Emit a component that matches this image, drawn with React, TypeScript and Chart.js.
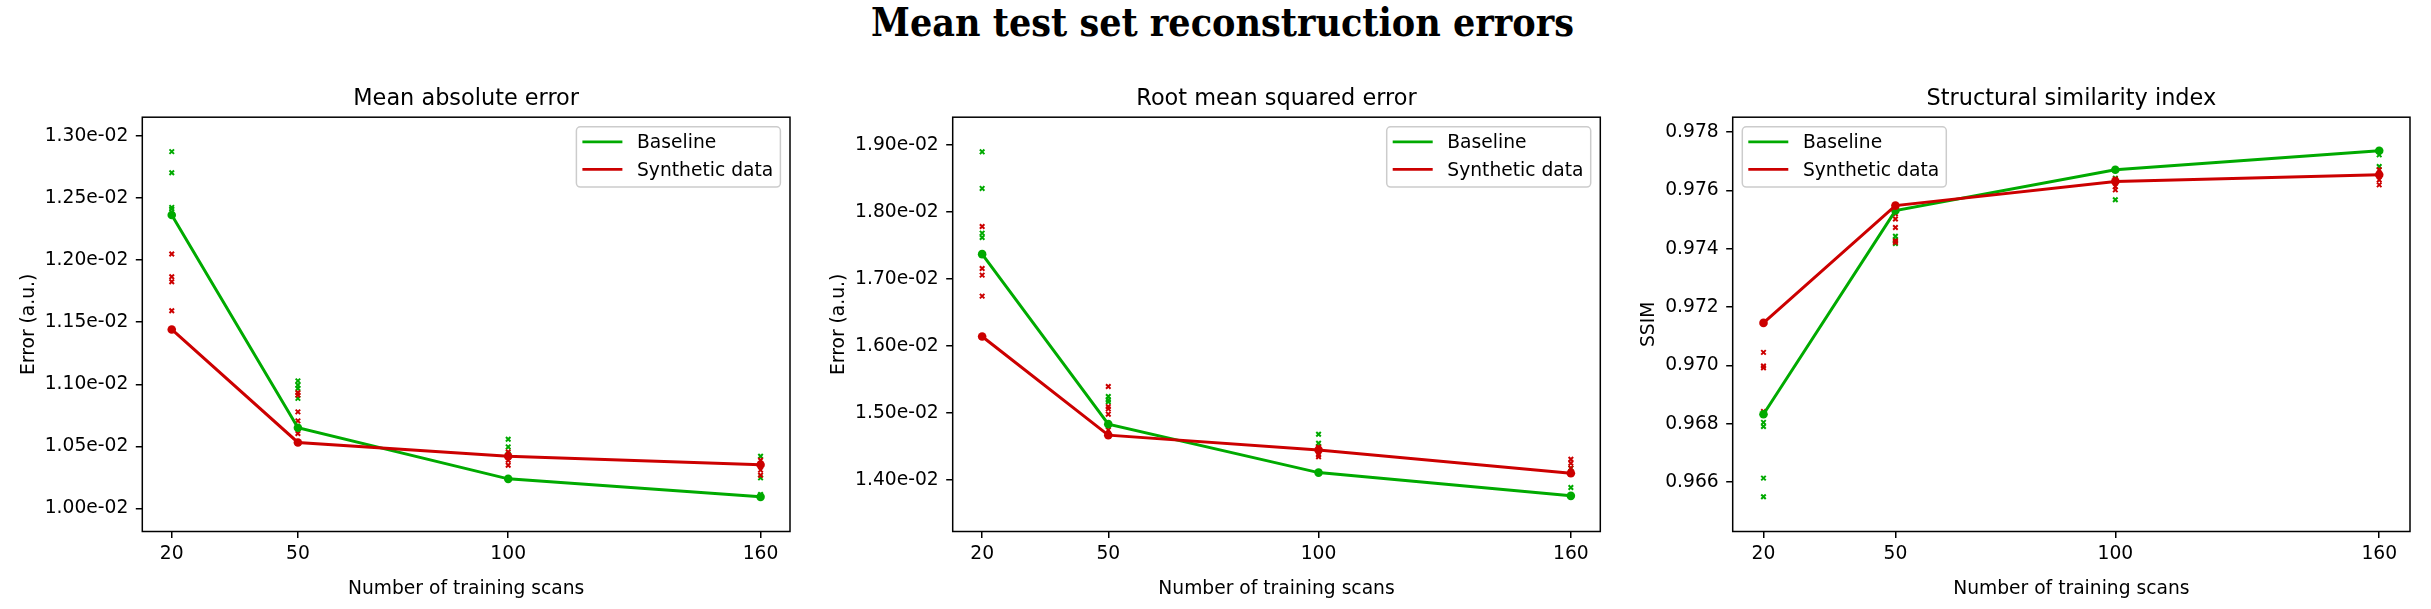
import React, { useEffect, useRef } from 'react';
import { Chart, registerables } from 'chart.js';

Chart.register(...registerables);
Chart.defaults.font.family = '"DejaVu Sans"';

// ---------- data ----------
const xValues = [20, 50, 100, 160];
const xTicks = [20, 50, 100, 160];
const seriesLabels = ['Baseline', 'Synthetic data'];

// Mean absolute error
const maeBaselineMean = [0.012363, 0.01065, 0.010239, 0.010094];
const maeSyntheticMean = [0.011442, 0.010532, 0.010421, 0.010352];
const maeBaselineRuns = [
  [0.012874, 0.012704, 0.012425, 0.012412],
  [0.011028, 0.010994, 0.010967, 0.010887],
  [0.010558, 0.010496, 0.01044],
  [0.010421, 0.010247, 0.010113],
];
const maeSyntheticRuns = [
  [0.012049, 0.011866, 0.011826, 0.011592],
  [0.010932, 0.010913, 0.010778, 0.010706, 0.010604],
  [0.010456, 0.01043, 0.010389, 0.010349],
  [0.010389, 0.01036, 0.010309, 0.010268],
];
const maeYTicks = [0.01, 0.0105, 0.011, 0.0115, 0.012, 0.0125, 0.013];

// Root mean squared error
const rmseBaselineMean = [0.017373, 0.014836, 0.014113, 0.013766];
const rmseSyntheticMean = [0.016145, 0.014672, 0.014452, 0.014104];
const rmseBaselineRuns = [
  [0.0189, 0.018354, 0.017687, 0.017621],
  [0.015248, 0.015198, 0.01517],
  [0.014686, 0.014552, 0.0145],
  [0.01418, 0.01389],
];
const rmseSyntheticRuns = [
  [0.017785, 0.01716, 0.01706, 0.016747],
  [0.015397, 0.015098, 0.015064, 0.014985, 0.01475],
  [0.01449, 0.01444, 0.01438, 0.01435],
  [0.014313, 0.014253, 0.01418, 0.01412],
];
const rmseYTicks = [0.014, 0.015, 0.016, 0.017, 0.018, 0.019];

// Structural similarity index
const ssimBaselineMean = [0.96833, 0.97531, 0.97671, 0.97736];
const ssimSyntheticMean = [0.97146, 0.97548, 0.97631, 0.97654];
const ssimBaselineRuns = [
  [0.96805, 0.96791, 0.96614, 0.9655],
  [0.97443, 0.9743, 0.97418],
  [0.97642, 0.97568],
  [0.97722, 0.97682],
];
const ssimSyntheticRuns = [
  [0.97045, 0.96998, 0.96992, 0.96842],
  [0.9752, 0.97502, 0.97473, 0.97427, 0.97422],
  [0.97639, 0.97613, 0.97602],
  [0.97671, 0.97636, 0.97619],
];
const ssimYTicks = [0.966, 0.968, 0.97, 0.972, 0.974, 0.976, 0.978];

// ---------- styling ----------
const W = 2431;
const H = 609;
const GREEN = '#00aa00';
const RED = '#cc0000';
const FONT = 18.7;
const TITLE_FONT = 22.4;
const CHART_TOP = 117.2;
const CHART_BOTTOM = 531.5;

const fmtExp = (v: number) => {
  const [m, e] = v.toExponential(2).split('e');
  const ex = parseInt(e, 10);
  return `${m}e${ex < 0 ? '-' : '+'}${String(Math.abs(ex)).padStart(2, '0')}`;
};
const fmtFixed = (v: number) => v.toFixed(3);

const meansToPoints = (m: number[]) => m.map((y, i) => ({ x: xValues[i], y }));
const runsToPoints = (runs: number[][]) =>
  runs.flatMap((ys, i) => ys.map((y) => ({ x: xValues[i], y })));

const decorPlugin = {
  id: 'decor',
  afterDraw(chart: any, _args: any, opts: any) {
    const { ctx } = chart;
    const { left, right, top, bottom } = chart.chartArea;
    ctx.save();
    // frame (all four spines)
    ctx.strokeStyle = '#000';
    ctx.lineWidth = 1.5;
    ctx.strokeRect(left, top, right - left, bottom - top);
    // panel title
    ctx.fillStyle = '#000';
    ctx.font = `${TITLE_FONT}px "DejaVu Sans"`;
    ctx.textAlign = 'center';
    ctx.textBaseline = 'alphabetic';
    ctx.fillText(opts.title, (left + right) / 2, top - 12.3);
    // legend
    const lw = 204;
    const lh = 60.3;
    const x0 = opts.legendSide === 'left' ? left + 9.6 : right - 9.6 - lw;
    const y0 = top + 9.6;
    ctx.beginPath();
    ctx.roundRect(x0, y0, lw, lh, 4);
    ctx.fillStyle = 'rgba(255,255,255,0.8)';
    ctx.fill();
    ctx.strokeStyle = '#cccccc';
    ctx.lineWidth = 1.5;
    ctx.stroke();
    const items = chart.data.datasets.filter((d: any) => d.showLine).reverse();
    items.forEach((d: any, i: number) => {
      const y = y0 + 15 + i * 27.6;
      ctx.beginPath();
      ctx.moveTo(x0 + 6, y);
      ctx.lineTo(x0 + 46, y);
      ctx.strokeStyle = d.borderColor;
      ctx.lineWidth = 2.8;
      ctx.stroke();
      ctx.fillStyle = '#000';
      ctx.font = `${FONT}px "DejaVu Sans"`;
      ctx.textAlign = 'left';
      ctx.textBaseline = 'middle';
      ctx.fillText(d.label, x0 + 60.6, y + 1.25);
    });
    ctx.restore();
  },
};

type Panel = {
  title: string;
  yLabel: string;
  baselineMean: number[];
  syntheticMean: number[];
  baselineRuns: number[][];
  syntheticRuns: number[][];
  yMin: number;
  yMax: number;
  yTicks: number[];
  fmt: (v: number) => string;
  padLeft: number;
  chartLeft: number;
  chartRight: number;
  legendSide: 'left' | 'right';
};

const panels: Panel[] = [
  {
    title: 'Mean absolute error',
    yLabel: 'Error (a.u.)',
    baselineMean: maeBaselineMean,
    syntheticMean: maeSyntheticMean,
    baselineRuns: maeBaselineRuns,
    syntheticRuns: maeSyntheticRuns,
    yMin: 0.009815,
    yMax: 0.013151,
    yTicks: maeYTicks,
    fmt: fmtExp,
    padLeft: 10,
    chartLeft: 142.3,
    chartRight: 790,
    legendSide: 'right',
  },
  {
    title: 'Root mean squared error',
    yLabel: 'Error (a.u.)',
    baselineMean: rmseBaselineMean,
    syntheticMean: rmseSyntheticMean,
    baselineRuns: rmseBaselineRuns,
    syntheticRuns: rmseSyntheticRuns,
    yMin: 0.013234,
    yMax: 0.019417,
    yTicks: rmseYTicks,
    fmt: fmtExp,
    padLeft: 820,
    chartLeft: 952.7,
    chartRight: 1600.3,
    legendSide: 'right',
  },
  {
    title: 'Structural similarity index',
    yLabel: 'SSIM',
    baselineMean: ssimBaselineMean,
    syntheticMean: ssimSyntheticMean,
    baselineRuns: ssimBaselineRuns,
    syntheticRuns: ssimSyntheticRuns,
    yMin: 0.96431,
    yMax: 0.97851,
    yTicks: ssimYTicks,
    fmt: fmtFixed,
    padLeft: 1630,
    chartLeft: 1732.7,
    chartRight: 2410,
    legendSide: 'left',
  },
];

function PanelChart({ p }: { p: Panel }) {
  const ref = useRef<HTMLCanvasElement | null>(null);
  useEffect(() => {
    if (!ref.current) return;
    const gridOpts = {
      drawOnChartArea: false,
      drawTicks: true,
      tickLength: 6.5,
      color: '#000',
      lineWidth: 1.5,
    };
    const chart = new Chart(ref.current, {
      type: 'scatter',
      data: {
        datasets: [
          {
            label: seriesLabels[1],
            data: meansToPoints(p.syntheticMean),
            showLine: true,
            borderColor: RED,
            backgroundColor: RED,
            borderWidth: 3,
            pointStyle: 'circle',
            pointRadius: 4.3,
            pointBorderWidth: 0,
            pointBackgroundColor: RED,
          },
          {
            label: seriesLabels[0],
            data: meansToPoints(p.baselineMean),
            showLine: true,
            borderColor: GREEN,
            backgroundColor: GREEN,
            borderWidth: 3,
            pointStyle: 'circle',
            pointRadius: 4.3,
            pointBorderWidth: 0,
            pointBackgroundColor: GREEN,
          },
          {
            label: seriesLabels[1] + ' runs',
            data: runsToPoints(p.syntheticRuns),
            showLine: false,
            borderColor: RED,
            backgroundColor: RED,
            pointStyle: 'crossRot',
            pointRadius: 3.2,
            pointBorderWidth: 2,
            pointBorderColor: RED,
          },
          {
            label: seriesLabels[0] + ' runs',
            data: runsToPoints(p.baselineRuns),
            showLine: false,
            borderColor: GREEN,
            backgroundColor: GREEN,
            pointStyle: 'crossRot',
            pointRadius: 3.2,
            pointBorderWidth: 2,
            pointBorderColor: GREEN,
          },
        ],
      },
      options: {
        animation: false,
        responsive: false,
        events: [],
        layout: {
          padding: { left: p.padLeft, right: W - p.chartRight, top: CHART_TOP, bottom: 0 },
        },
        plugins: {
          legend: { display: false },
          tooltip: { enabled: false },
          title: { display: false },
          decor: { title: p.title, legendSide: p.legendSide },
        } as any,
        scales: {
          x: {
            type: 'linear',
            min: 13,
            max: 167,
            afterBuildTicks: (s: any) => {
              s.ticks = xTicks.map((v) => ({ value: v }));
            },
            afterFit: (s: any) => {
              s.height = H - CHART_BOTTOM;
            },
            grid: gridOpts,
            border: { display: false },
            ticks: {
              color: '#000',
              font: { size: FONT },
              padding: 4.7,
              maxRotation: 0,
              autoSkip: false,
              callback: (v: any) => String(v),
            },
            title: {
              display: true,
              text: 'Number of training scans',
              color: '#000',
              font: { size: FONT },
              padding: { top: 0, bottom: 8.7 },
            },
          },
          y: {
            type: 'linear',
            min: p.yMin,
            max: p.yMax,
            afterBuildTicks: (s: any) => {
              s.ticks = p.yTicks.map((v) => ({ value: v }));
            },
            afterFit: (s: any) => {
              s.width = p.chartLeft - p.padLeft;
            },
            grid: gridOpts,
            border: { display: false },
            ticks: {
              color: '#000',
              font: { size: FONT },
              padding: 7.5,
              autoSkip: false,
              callback: (v: any) => p.fmt(Number(v)),
            },
            title: {
              display: true,
              text: p.yLabel,
              color: '#000',
              font: { size: FONT },
              padding: { top: 8, bottom: 0 },
            },
          },
        },
      } as any,
      plugins: [decorPlugin as any],
    });
    return () => chart.destroy();
  }, [p]);
  return (
    <canvas
      ref={ref}
      width={W}
      height={H}
      style={{ position: 'absolute', left: 0, top: 0, width: W, height: H }}
    />
  );
}

export default function App() {
  return (
    <div
      style={{
        position: 'fixed',
        left: 0,
        top: 0,
        width: W,
        height: H,
        background: '#fff',
        overflow: 'hidden',
      }}
    >
      <div
        style={{
          position: 'absolute',
          left: 7,
          top: 3,
          width: W,
          textAlign: 'center',
          fontFamily: '"DejaVu Serif Condensed", "DejaVu Serif"',
          fontStretch: 'condensed',
          fontWeight: 'bold',
          fontSize: 39,
          lineHeight: 1,
          color: '#000',
          whiteSpace: 'nowrap',
        }}
      >
        Mean test set reconstruction errors
      </div>
      {panels.map((p, i) => (
        <PanelChart key={i} p={p} />
      ))}
    </div>
  );
}
